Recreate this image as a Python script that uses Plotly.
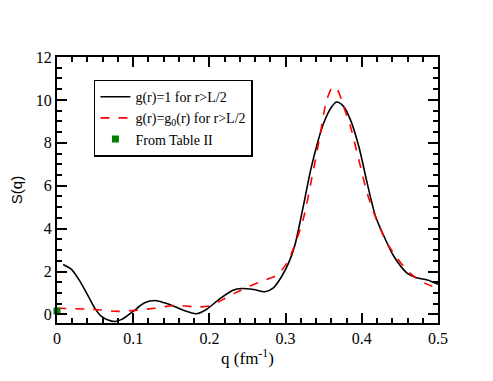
import plotly.graph_objects as go

# S(q) with g(r)=1 beyond L/2
q_g1 = [0.008, 0.019, 0.03, 0.041, 0.05, 0.058, 0.067, 0.076, 0.085, 0.1, 0.115, 0.128, 0.141,
        0.155, 0.166, 0.183, 0.196, 0.214, 0.231, 0.242, 0.258, 0.273, 0.284, 0.295, 0.304,
        0.312, 0.323, 0.334, 0.35, 0.361, 0.367, 0.376, 0.385, 0.396, 0.407, 0.418, 0.429,
        0.442, 0.459, 0.472, 0.486, 0.5]
s_g1 = [2.33, 2.1, 1.55, 0.85, 0.27, -0.08, -0.26, -0.33, -0.23, 0.15, 0.54, 0.65, 0.54,
        0.36, 0.19, 0.03, 0.23, 0.74, 1.13, 1.21, 1.16, 1.06, 1.24, 1.78, 2.4,
        3.2, 5.0, 6.9, 8.92, 9.7, 9.9, 9.7, 9.08, 7.84, 6.13, 4.58, 3.65,
        2.71, 1.94, 1.71, 1.6, 1.4]

# S(q) with g(r)=g0(r) beyond L/2
q_g0 = [0.0, 0.05, 0.08, 0.1, 0.128, 0.155, 0.183, 0.2, 0.218, 0.236, 0.253, 0.275, 0.288,
        0.299, 0.308, 0.323, 0.334, 0.345, 0.354, 0.362, 0.368, 0.376, 0.385, 0.396, 0.407,
        0.42, 0.433, 0.451, 0.468, 0.486, 0.5]
s_g0 = [0.29, 0.23, 0.14, 0.18, 0.29, 0.42, 0.35, 0.39, 0.7, 1.04, 1.32, 1.63, 1.82,
        2.25, 2.87, 4.42, 6.28, 8.3, 10.0, 10.6, 10.47, 9.7, 8.77, 7.22, 5.66,
        4.35, 3.34, 2.41, 1.78, 1.4, 1.24]

q_table = [0.0]
s_table = [0.16]

serif = "Liberation Serif, Times New Roman, serif"

fig = go.Figure()
fig.add_trace(go.Scatter(x=q_g1, y=s_g1, mode="lines", name="g(r)=1 for r>L/2",
                         line=dict(color="black", width=1.6, shape="spline", smoothing=0.8)))
fig.add_trace(go.Scatter(x=q_g0, y=s_g0, mode="lines", name="g(r)=g<sub>0</sub>(r) for r>L/2",
                         line=dict(color="red", width=1.6, dash="dash", shape="spline", smoothing=0.8)))
fig.add_trace(go.Scatter(x=q_table, y=s_table, mode="markers", name="From Table II",
                         marker=dict(color="green", symbol="square", size=7), cliponaxis=False))

axis_common = dict(
    showgrid=False, zeroline=False, showline=True, linecolor="black", linewidth=2,
    mirror="ticks", ticks="inside", ticklen=10, tickwidth=1.5, tickcolor="black",
    tickfont=dict(family=serif, size=16, color="black"), automargin=False,
)

fig.update_xaxes(range=[0, 0.5], dtick=0.1,
                 minor=dict(dtick=0.02, ticks="inside", ticklen=5, tickwidth=1.5, tickcolor="black"),
                 title=dict(text="q (fm<sup>-1</sup>)", font=dict(family=serif, size=17, color="black"),
                            standoff=6),
                 **axis_common)
fig.update_yaxes(range=[-0.4, 12], dtick=2,
                 minor=dict(dtick=0.5, ticks="inside", ticklen=5, tickwidth=1.5, tickcolor="black"),
                 title=dict(text="S(q)", font=dict(family="Liberation Sans, Arial, sans-serif", size=15,
                                                   color="black"), standoff=10),
                 **axis_common)

fig.update_layout(
    width=493, height=381,
    margin=dict(l=57, r=55, t=57, b=58),
    plot_bgcolor="white", paper_bgcolor="white",
    legend=dict(x=0.097, y=0.915, xanchor="left", yanchor="top",
                bordercolor="black", borderwidth=1.5, bgcolor="white",
                font=dict(family=serif, size=14, color="black"),
                tracegroupgap=0, itemwidth=30),
)

fig.write_html("out.html", config={"displayModeBar": False},
               post_script="document.body.style.margin='0';")
